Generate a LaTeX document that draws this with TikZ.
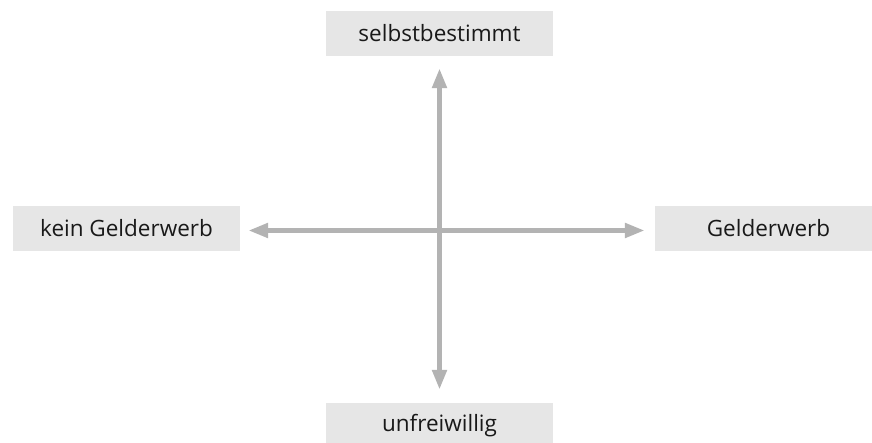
\documentclass[tikz,border=0pt]{standalone}
\usepackage{fontspec}
\setmainfont{Open Sans}[Ligatures=NoCommon]
\usetikzlibrary{arrows.meta}
\begin{document}
\begin{tikzpicture}[x=1pt,y=1pt,
  lbl/.style={fill=boxgray,minimum width=227pt,minimum height=45pt,inner sep=0pt,font=\fontsize{22.5}{26}\selectfont,text=black!90},
  axis/.style={draw=arrowgray,line width=5pt,{Triangle[length=20pt,width=14pt]}-{Triangle[length=20pt,width=14pt]}}]
\definecolor{boxgray}{HTML}{E6E6E6}
\definecolor{arrowgray}{HTML}{B3B3B3}
\clip (0,0) rectangle (872,443);
\node[lbl] (top) at (439.5,409.5) {selbstbestimmt};
\node[lbl] (left) at (126.5,214.5) {kein Gelderwerb};
\node[lbl] (right) at (768.5,214.5) {Gelderwerb};
\node[lbl] (bottom) at (439.5,17.5) {unfreiwillig};
\draw[axis,shorten <=13pt,shorten >=12pt] (bottom) -- (top);
\draw[axis,shorten <=8pt,shorten >=10pt] ([yshift=-2pt]left.east) -- ([yshift=-2pt]right.west);
\end{tikzpicture}
\end{document}
